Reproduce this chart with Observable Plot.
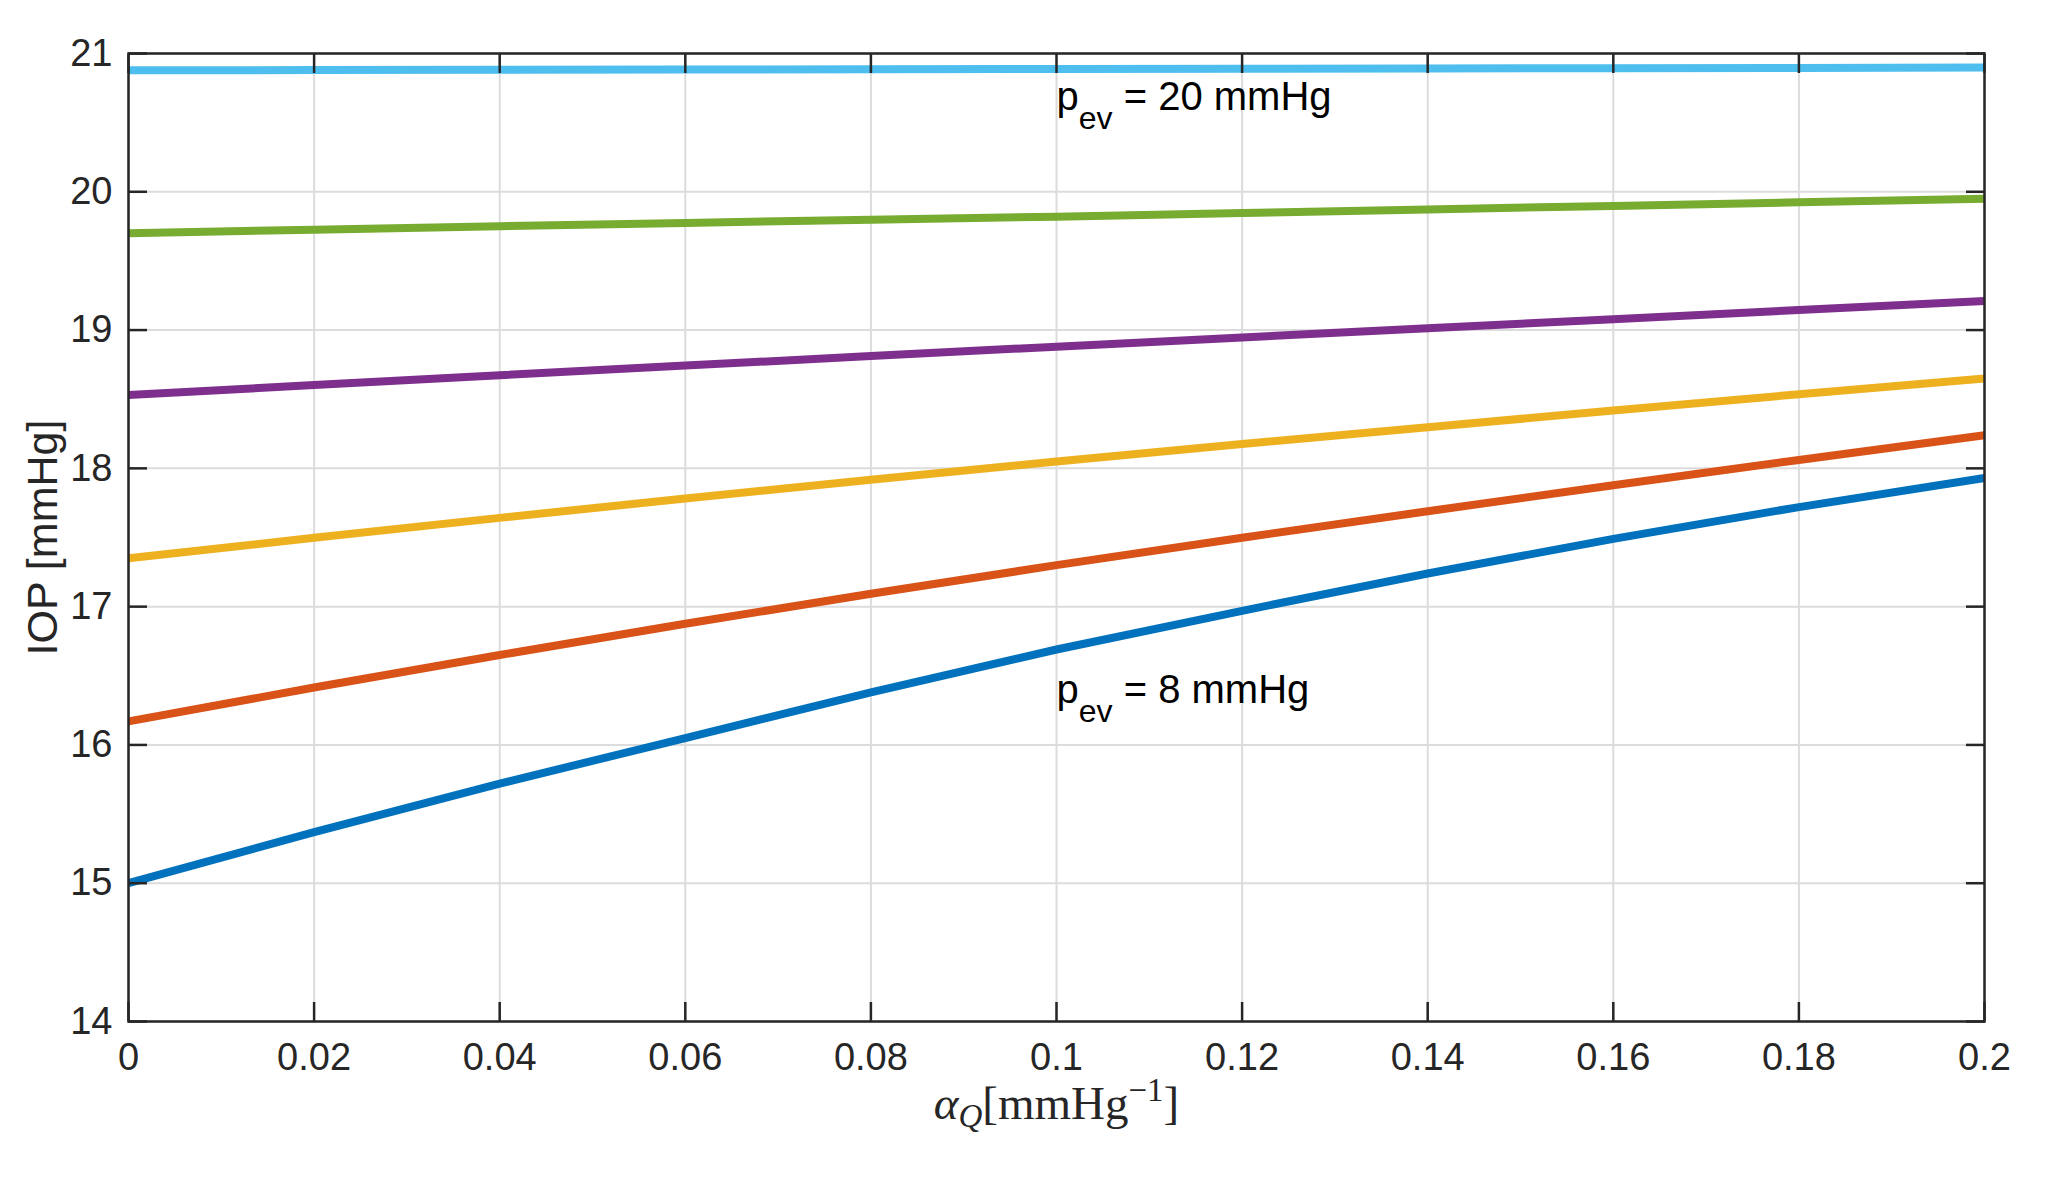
<!DOCTYPE html>
<html>
<head>
<meta charset="utf-8">
<script src="https://cdn.jsdelivr.net/npm/d3@7"></script>
<script src="https://cdn.jsdelivr.net/npm/@observablehq/plot@0.6"></script>
<style>
  html, body { margin: 0; padding: 0; background: #ffffff; }
  #chart svg { display: block; }
</style>
</head>
<body>
<div id="chart"></div>
<script>
// ---- data ----
const alphaQ = [0, 0.02, 0.04, 0.06, 0.08, 0.1, 0.12, 0.14, 0.16, 0.18, 0.2];
const pevValues = [8, 10.4, 12.8, 15.2, 17.6, 20];
const iopPev8    = [15.00, 15.37, 15.72, 16.05, 16.38, 16.69, 16.97, 17.24, 17.49, 17.72, 17.93];
const iopPev10_4 = [16.17, 16.415, 16.65, 16.876, 17.093, 17.30, 17.498, 17.69, 17.878, 18.061, 18.24];
const iopPev12_8 = [17.35, 17.498, 17.642, 17.782, 17.918, 18.05, 18.176, 18.298, 18.418, 18.536, 18.65];
const iopPev15_2 = [18.53, 18.602, 18.673, 18.743, 18.812, 18.88, 18.947, 19.013, 19.079, 19.145, 19.21];
const iopPev17_6 = [19.70, 19.726, 19.751, 19.775, 19.798, 19.82, 19.846, 19.872, 19.898, 19.924, 19.95];
const iopPev20   = [20.878, 20.880, 20.882, 20.884, 20.886, 20.888, 20.890, 20.892, 20.894, 20.896, 20.898];
const seriesColors = ["#0072BD", "#D95319", "#EDB120", "#7E2F8E", "#77AC30", "#4DBEEE"];

const xTicks = [0, 0.02, 0.04, 0.06, 0.08, 0.1, 0.12, 0.14, 0.16, 0.18, 0.2];
const xTickLabels = ["0", "0.02", "0.04", "0.06", "0.08", "0.1", "0.12", "0.14", "0.16", "0.18", "0.2"];
const yTicks = [14, 15, 16, 17, 18, 19, 20, 21];
const yTickLabels = ["14", "15", "16", "17", "18", "19", "20", "21"];

const annX = [0.1, 0.1];
const annY = [20.595, 16.30];
const annPev = ["20", "8"];

const yLabelText = "IOP [mmHg]";
const xLabelText = "alphaQ-label";

// ---- build tables ----
const allSeries = [iopPev8, iopPev10_4, iopPev12_8, iopPev15_2, iopPev17_6, iopPev20];
const lineMarks = allSeries.map((vals, i) =>
  Plot.line(alphaQ.map((a, j) => ({a, iop: vals[j], pev: pevValues[i]})), {
    x: "a", y: "iop", stroke: seriesColors[i], strokeWidth: 8, strokeLinecap: "butt"
  })
);
const annotations = annX.map((x, i) => ({x, y: annY[i], pev: annPev[i]}));

const axisColor = "#262626";
const fontMain = "'Liberation Sans', Arial, Helvetica, sans-serif";

const chart = Plot.plot({
  width: 2056,
  height: 1179,
  marginLeft: 128,
  marginRight: 72,
  marginTop: 53,
  marginBottom: 158,
  style: {fontFamily: fontMain, color: axisColor, background: "#ffffff"},
  x: {domain: [0, 0.2], label: null},
  y: {domain: [14, 21], label: null},
  marks: [
    Plot.gridX(xTicks, {stroke: "#dcdcdc", strokeOpacity: 1, strokeWidth: 2}),
    Plot.gridY(yTicks, {stroke: "#dcdcdc", strokeOpacity: 1, strokeWidth: 2}),
    ...lineMarks,
    Plot.frame({stroke: axisColor, strokeWidth: 2.5}),
    // inward ticks on all four sides
    Plot.axisX(xTicks, {anchor: "bottom", tickSize: -19, text: null, label: null, stroke: axisColor, strokeWidth: 2.5}),
    Plot.axisX(xTicks, {anchor: "top", tickSize: -19, text: null, label: null, stroke: axisColor, strokeWidth: 2.5}),
    Plot.axisY(yTicks, {anchor: "left", tickSize: -19, text: null, label: null, stroke: axisColor, strokeWidth: 2.5}),
    Plot.axisY(yTicks, {anchor: "right", tickSize: -19, text: null, label: null, stroke: axisColor, strokeWidth: 2.5}),
    // tick labels
    Plot.axisX(xTicks, {anchor: "bottom", tickSize: 0, tickPadding: 22, fontSize: 38, label: null,
      tickFormat: d => xTickLabels[xTicks.indexOf(d)]}),
    Plot.axisY(yTicks, {anchor: "left", tickSize: 0, tickPadding: 16, fontSize: 38, label: null,
      tickFormat: d => yTickLabels[yTicks.indexOf(d)]}),
    // axis titles
    Plot.text([yLabelText], {frameAnchor: "left", rotate: -90, dx: -85, fontSize: 43, fill: axisColor,
      text: d => d, lineAnchor: "middle", textAnchor: "middle"}),
    Plot.text([xLabelText], {frameAnchor: "bottom", dy: 97, fontSize: 47, fill: axisColor,
      text: d => d, lineAnchor: "bottom", textAnchor: "middle", fontFamily: "'Liberation Serif', 'Times New Roman', serif"}),
    // annotations
    Plot.text(annotations, {x: "x", y: "y", text: d => "pev-ann-" + d.pev, textAnchor: "start",
      lineAnchor: "bottom", fontSize: 40, fill: "#000000"})
  ]
});

document.getElementById("chart").appendChild(chart);

// ---- rich text (subscripts / superscripts) ----
function rebuild(node, parts) {
  const sel = d3.select(node);
  sel.text(null);
  for (const p of parts) {
    const ts = sel.append("tspan").text(p.t);
    if (p.size) ts.attr("font-size", p.size);
    if (p.dy) ts.attr("dy", p.dy);
    if (p.italic) ts.attr("font-style", "italic");
  }
}
d3.select(chart).selectAll("text").each(function() {
  const t = this.textContent;
  if (t === xLabelText) {
    rebuild(this, [
      {t: "α", italic: true},
      {t: "Q", italic: true, size: 33, dy: 8},
      {t: "[mmHg", size: 47, dy: -8},
      {t: "−1", size: 33, dy: -18},
      {t: "]", size: 47, dy: 18}
    ]);
  } else if (t.startsWith("pev-ann-")) {
    const v = t.slice(8);
    d3.select(this).style("white-space", "pre");
    rebuild(this, [
      {t: "p"},
      {t: "ev", size: 32, dy: 19},
      {t: " = " + v + " mmHg", size: 40, dy: -19}
    ]);
  }
});
</script>
</body>
</html>
